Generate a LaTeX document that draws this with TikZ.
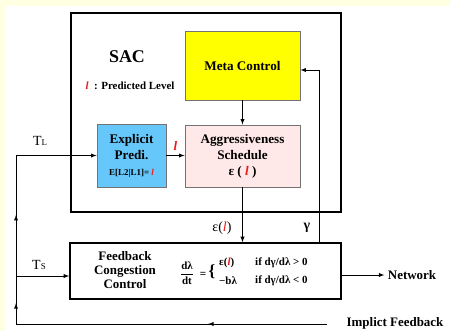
\documentclass[tikz,border=0pt]{standalone}
\usepackage{fontspec}
\setmainfont{Liberation Serif}
\usetikzlibrary{arrows, decorations.markings}
\usetikzlibrary{calc}

\definecolor{paleyellow}{RGB}{255,255,226}
\definecolor{metayellow}{RGB}{255,255,0}
\definecolor{predblue}{RGB}{102,200,250}
\definecolor{aggrpink}{RGB}{255,232,232}
\definecolor{lvlred}{RGB}{235,25,25}
\newcommand{\lvl}{\textcolor{lvlred}{\textit{l}}}

\tikzset{
  blk/.style={draw=black!55, line width=0.9bp, align=center, inner sep=0pt,
    font=\fontsize{13.2}{16}\selectfont\bfseries},
  frame/.style={draw=black, line width=1.6bp},
  wire/.style={line width=0.9bp},
  arr/.style={wire, -latex},
  lbl/.style={font=\fontsize{14}{16}\selectfont},
  eqn/.style={font=\fontsize{11}{13}\selectfont\bfseries, inner sep=0pt},
}

\begin{document}
\begin{tikzpicture}[x=1bp,y=-1bp]
        \fill[paleyellow] (0,0) rectangle (450,331);
        \fill[white] (6,6) rectangle (450,331);
        \useasboundingbox (0,0) rectangle (450,331);

        \draw[frame] (71,13) rectangle (341,212);
        \node[font=\fontsize{18}{20}\selectfont\bfseries] (sac) at (127,57) {SAC};
        \node[font=\fontsize{11}{13}\selectfont\bfseries] (legend) at (130,86) {\lvl\ \ : Predicted Level};

        \node[blk, fill=metayellow, minimum width=115bp, minimum height=69bp] (meta) at (242.5,65.5) {Meta Control};
        \node[blk, fill=predblue, minimum width=69bp, minimum height=63bp] (pred) at (131.5,155.5)
            {Explicit\\Predi.\\{\fontsize{9}{10}\selectfont E[L2|L1]= \lvl}};
        \node[blk, fill=aggrpink, minimum width=115bp, minimum height=62bp] (aggr) at (242.5,156)
            {Aggressiveness\\Schedule\\ε ( \lvl\ )};

        \node[frame, minimum width=271bp, minimum height=56bp, inner sep=0pt] (fcc) at (205.5,271) {};
        \node[font=\fontsize{13}{14}\selectfont\bfseries, align=center] (fcctxt) at (125,270) {Feedback\\Congestion\\Control};

        \node[eqn] (frac) at (187,273) {$\displaystyle\frac{\mbox{dλ}}{\mbox{dt}}$};
        \node[eqn] (eqsign) at (203,275) {=};
        \node[eqn, font=\fontsize{17}{17}\selectfont\bfseries] (brace) at (212,272) {\{};
        \node[eqn, anchor=west] (case1) at (219,263) {ε(\lvl)};
        \node[eqn, anchor=west] (cond1) at (255,263) {if dγ/dλ > 0};
        \node[eqn, anchor=west] (case2) at (219,281) {−bλ};
        \node[eqn, anchor=west] (cond2) at (255,281) {if dγ/dλ < 0};

        \coordinate (tl) at (16,155.5);
        \coordinate (ts) at (16,276);
        \coordinate (corner) at (16,324);
        \coordinate (imp) at (327,324);
        \coordinate (gam) at (319,70);

        \node[lbl] (tllbl) at (40,141) {T{\fontsize{9}{9}\selectfont L}};
        \node[lbl] (tslbl) at (39,265) {T{\fontsize{9}{9}\selectfont S}};
        \node[lbl] (epslbl) at (222,228) {ε(\lvl)};
        \node[lbl, font=\fontsize{14}{16}\selectfont\bfseries] (gamlbl) at (307,228) {γ};
        \node[font=\fontsize{13}{15}\selectfont\bfseries] (net) at (412,275) {Network};
        \node[font=\fontsize{13}{15}\selectfont\bfseries] (impl) at (395,323) {Implict Feedback};

        \draw[arr] (meta) -- (aggr);
        \draw[arr] (pred.east) -- (pred.east -| aggr.west) node[midway, above=1bp, font=\fontsize{13}{15}\selectfont\bfseries] {\lvl};
        \draw[arr] (aggr.south) -- (aggr.south |- fcc.north);
        \draw[arr] (fcc.north -| gam) -- (gam) -- (gam -| meta.east);
        \draw[arr] (fcc.east |- net) -- (net.west);
        \draw[arr] (tl) -- (pred.west);
        \draw[arr] (ts) -- (ts -| fcc.west);
        \draw[wire, postaction={decorate}, decoration={markings,
            mark=at position 0.248 with {\arrow{latex}},
            mark=at position 0.692 with {\arrow{latex}},
            mark=at position 0.876 with {\arrow{latex}}}]
            (imp) -- (corner) -- (tl);
\end{tikzpicture}
\end{document}
